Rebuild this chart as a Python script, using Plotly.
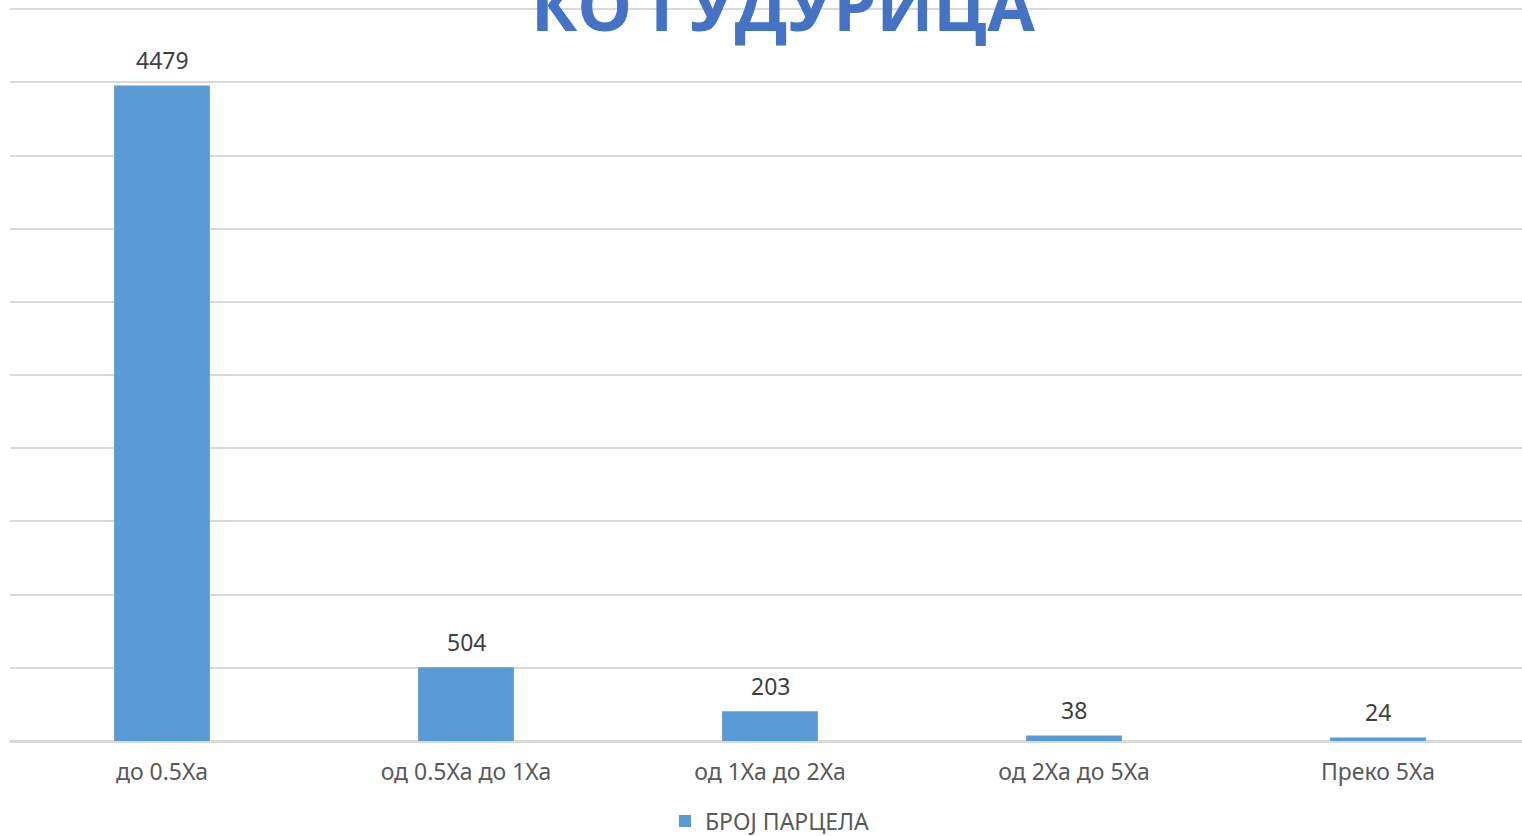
import plotly.graph_objects as go

categories = ["до 0.5Ха", "од 0.5Ха до 1Ха", "од 1Ха до 2Ха", "од 2Ха до 5Ха", "Преко 5Ха"]
values = [4479, 504, 203, 38, 24]
series_name = "БРОЈ ПАРЦЕЛА"
title_text = "КО ГУДУРИЦА"

fig = go.Figure()
fig.add_trace(go.Bar(
    x=categories, y=values, name=series_name,
    marker=dict(color="#5B9BD5", line=dict(width=0)),
))

for c, v in zip(categories, values):
    fig.add_annotation(x=c, y=v, text=str(v), showarrow=False,
                       yanchor="middle", yshift=25,
                       font=dict(family="Noto Sans", size=23, color="#404040"))

fig.add_annotation(xref="paper", yref="paper", x=0.5, y=1.0, yanchor="middle",
                   yshift=4, xshift=13, text="<b>" + title_text + "</b>", showarrow=False,
                   font=dict(family="Open Sans", size=69, color="#4472C4"))

fig.update_layout(
    width=1530, height=836,
    margin=dict(l=10, r=0, t=8, b=95),
    paper_bgcolor="white", plot_bgcolor="white",
    bargap=0.685,
    showlegend=True,
    legend=dict(orientation="h", x=0.5, xanchor="center", xref="paper",
                yref="container", y=0.018, yanchor="middle",
                font=dict(family="Noto Sans", size=23, color="#595959")),
    font=dict(family="Noto Sans"),
)
fig.update_xaxes(showline=True, linecolor="#D9D9D9", linewidth=2, ticks="",
                 ticklabelstandoff=9,
                 tickfont=dict(family="Noto Sans", size=23, color="#595959"))
fig.update_yaxes(range=[0, 5008], dtick=500, showticklabels=False,
                 showgrid=True, gridcolor="#D9D9D9", gridwidth=2,
                 zeroline=True, zerolinecolor="#D9D9D9", zerolinewidth=2)

fig.write_html("out.html", config={"displayModeBar": False},
               post_script="document.body.style.margin='0';document.body.style.overflow='hidden';")
